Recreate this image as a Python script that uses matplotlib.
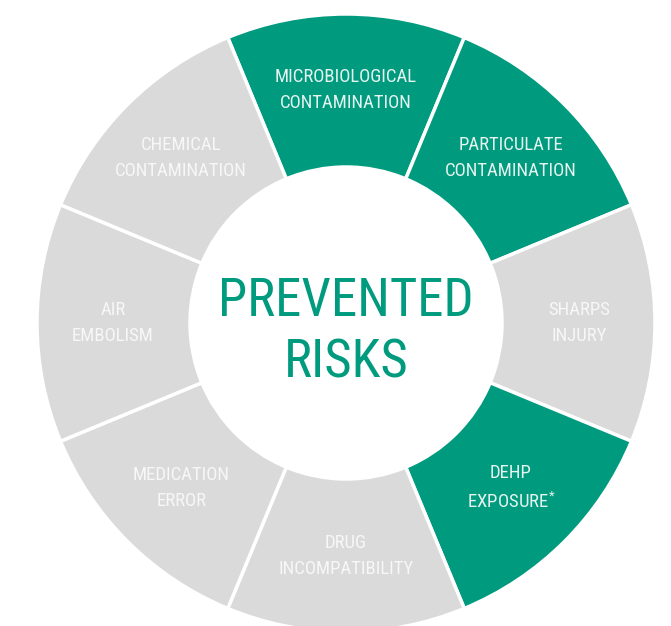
import numpy as np
import matplotlib.pyplot as plt

# Segmentos del anillo (en sentido horario desde arriba)
etiquetas = ["MICROBIOLOGICAL\nCONTAMINATION", "PARTICULATE\nCONTAMINATION",
             "SHARPS\nINJURY", "DEHP\nEXPOSURE$^{*}$", "DRUG\nINCOMPATIBILITY",
             "MEDICATION\nERROR", "AIR\nEMBOLISM", "CHEMICAL\nCONTAMINATION"]
valores = [1, 1, 1, 1, 1, 1, 1, 1]
prevenido = [True, True, False, True, False, False, False, False]
titulo = "PREVENTED\nRISKS"

verde = "#009B7E"
gris = "#DADADA"
plt.rcParams['font.family'] = ["Roboto Condensed", "DejaVu Sans"]
plt.rcParams['mathtext.fontset'] = 'custom'
plt.rcParams['mathtext.rm'] = 'Roboto Condensed'
plt.rcParams['mathtext.it'] = 'Roboto Condensed'

fig = plt.figure(figsize=(6.71, 6.26), dpi=100)
ax = fig.add_axes([0, 0, 1, 1])

centro = (346, 303)
R = 309
r_int = 156
colores = [verde if p else gris for p in prevenido]
wedges, _ = ax.pie(valores, radius=R, center=centro, startangle=112.5,
                   counterclock=False, colors=colores, frame=True,
                   wedgeprops=dict(width=R - r_int, edgecolor="white",
                                   linewidth=2.5))

# Etiquetas de cada segmento
r_txt = 233
for w, txt, p in zip(wedges, etiquetas, prevenido):
    ang = np.deg2rad((w.theta1 + w.theta2) / 2)
    x = centro[0] + r_txt * np.cos(ang)
    y = centro[1] + r_txt * np.sin(ang)
    col = "#E6F4F0" if p else "#F7F7F7"
    ax.text(x, y, txt, ha="center", va="center", fontsize=13.5,
            color=col, linespacing=1.6)

ax.text(centro[0], centro[1] - 9, titulo, ha="center", va="center",
        fontsize=38, color=verde, linespacing=1.25)

ax.set_xlim(0, 671)
ax.set_ylim(0, 626)
ax.set_aspect("equal")
ax.axis("off")

plt.savefig("out.png", dpi=100)
